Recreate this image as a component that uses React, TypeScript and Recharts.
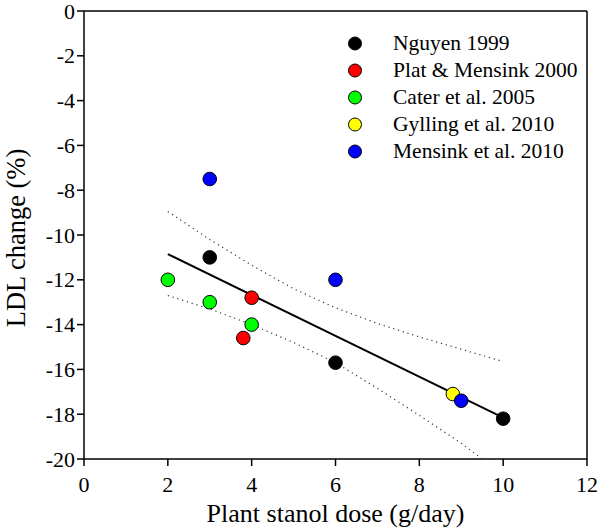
import React from "react";
import {
  ScatterChart,
  Scatter,
  XAxis,
  YAxis,
  ReferenceLine,
  Legend,
  Label,
} from "recharts";

const FONT = '"Liberation Serif", "Times New Roman", serif';

// study points: dose (g/day) and LDL change (%)
const nguyenX = [3, 6, 10];
const nguyenY = [-11, -15.7, -18.2];
const platX = [4, 3.8];
const platY = [-12.8, -14.6];
const caterX = [2, 3, 4];
const caterY = [-12, -13, -14];
const gyllingX = [8.8];
const gyllingY = [-17.1];
const mensinkX = [3, 6, 9];
const mensinkY = [-7.5, -12, -17.4];

// regression line and dotted 95% bands
const fitX = [2, 10];
const fitY = [-10.85, -18.15];
const upperX = [2, 3, 4, 5, 6, 7, 8, 9, 10];
const upperY = [-8.95, -10.2, -11.35, -12.4, -13.25, -13.95, -14.55, -15.1, -15.65];
const lowerX = [2, 3, 4, 5, 6, 7, 8, 9, 9.5];
const lowerY = [-12.7, -13.3, -14, -14.8, -15.7, -16.85, -18.05, -19.3, -20];

const xTicks = [0, 2, 4, 6, 8, 10, 12];
const yTicks = [0, -2, -4, -6, -8, -10, -12, -14, -16, -18, -20];

const toPoints = (xs: number[], ys: number[]) =>
  xs.map((x, i) => ({ x, y: ys[i] }));

const series = [
  { name: "Nguyen 1999", color: "#000000", data: toPoints(nguyenX, nguyenY) },
  { name: "Plat & Mensink 2000", color: "#ff0000", data: toPoints(platX, platY) },
  { name: "Cater et al. 2005", color: "#00ff00", data: toPoints(caterX, caterY) },
  { name: "Gylling et al. 2010", color: "#ffff00", data: toPoints(gyllingX, gyllingY) },
  { name: "Mensink et al. 2010", color: "#0000ff", data: toPoints(mensinkX, mensinkY) },
];

const Dot = (props: any) => {
  const { cx, cy, fill } = props;
  if (cx == null || cy == null) return <g />;
  return <circle cx={cx} cy={cy} r={6.8} fill={fill} stroke="#000" strokeWidth={1} />;
};

const NoShape = () => <g />;

const renderXTick = (props: any) => {
  const { x, y, payload } = props;
  return (
    <text
      x={x}
      y={y + 24}
      textAnchor="middle"
      style={{ fontSize: 22, fontFamily: FONT, fill: "#000" }}
    >
      {payload.value}
    </text>
  );
};

const renderYTick = (props: any) => {
  const { x, y, payload } = props;
  return (
    <text
      x={x}
      y={y + 7.5}
      textAnchor="end"
      style={{ fontSize: 22, fontFamily: FONT, fill: "#000" }}
    >
      {payload.value}
    </text>
  );
};

const CustomLegend = () => (
  <div style={{ fontFamily: FONT }}>
    {series.map((s) => (
      <div
        key={s.name}
        style={{ display: "flex", alignItems: "center", height: 27.1 }}
      >
        <svg width={53} height={27} style={{ display: "block" }}>
          <circle cx={15} cy={13.5} r={6.5} fill={s.color} stroke="#000" strokeWidth={1} />
        </svg>
        <span style={{ fontSize: 21.5, lineHeight: "27px", color: "#000", whiteSpace: "nowrap" }}>
          {s.name}
        </span>
      </div>
    ))}
  </div>
);

export default function App() {
  return (
    <div style={{ position: "absolute", left: 0, top: 0, background: "#fff", fontFamily: FONT }}>
      <ScatterChart
        width={600}
        height={528}
        margin={{ top: 11, right: 13, left: 0, bottom: 0 }}
      >
        <XAxis
          type="number"
          dataKey="x"
          domain={[0, 12]}
          ticks={xTicks}
          interval={0}
          height={69}
          tickSize={7}
          tick={renderXTick}
          axisLine={{ stroke: "#000", strokeWidth: 1.5 }}
          tickLine={{ stroke: "#000", strokeWidth: 1.5 }}
          allowDataOverflow
        >
          <Label
            content={(p: any) => {
              const vb = p.viewBox || { x: 84, width: 503 };
              return (
                <text
                  x={vb.x + vb.width / 2}
                  y={522}
                  textAnchor="middle"
                  fontSize={26}
                  fontFamily={FONT}
                  fill="#000"
                >
                  Plant stanol dose (g/day)
                </text>
              );
            }}
          />
        </XAxis>
        <YAxis
          type="number"
          dataKey="y"
          domain={[-20, 0]}
          ticks={yTicks}
          interval={0}
          width={84}
          tickSize={7}
          tick={renderYTick}
          axisLine={{ stroke: "#000", strokeWidth: 1.5 }}
          tickLine={{ stroke: "#000", strokeWidth: 1.5 }}
          allowDataOverflow
        >
          <Label
            content={(p: any) => {
              const vb = p.viewBox || { y: 11, height: 448 };
              const cy = vb.y + vb.height / 2 + 3;
              return (
                <text
                  x={25}
                  y={cy}
                  textAnchor="middle"
                  fontSize={26.5}
                  fontFamily={FONT}
                  fill="#000"
                  transform={`rotate(-90, 25, ${cy})`}
                >
                  LDL change (%)
                </text>
              );
            }}
          />
        </YAxis>
        <ReferenceLine y={0} stroke="#000" strokeWidth={1.5} />
        <ReferenceLine x={12} stroke="#000" strokeWidth={1.5} />
        <Legend
          layout="vertical"
          align="center"
          verticalAlign="middle"
          wrapperStyle={{ left: 340, top: 30, width: 250 }}
          content={<CustomLegend />}
        />
        <Scatter
          data={toPoints(upperX, upperY)}
          line={{ stroke: "#333", strokeWidth: 1.2, strokeDasharray: "1.2 3.8" }}
          shape={NoShape}
          legendType="none"
          isAnimationActive={false}
        />
        <Scatter
          data={toPoints(lowerX, lowerY)}
          line={{ stroke: "#333", strokeWidth: 1.2, strokeDasharray: "1.2 3.8" }}
          shape={NoShape}
          legendType="none"
          isAnimationActive={false}
        />
        <Scatter
          data={toPoints(fitX, fitY)}
          line={{ stroke: "#000", strokeWidth: 2 }}
          shape={NoShape}
          legendType="none"
          isAnimationActive={false}
        />
        {series.map((s) => (
          <Scatter
            key={s.name}
            name={s.name}
            data={s.data}
            fill={s.color}
            shape={Dot}
            isAnimationActive={false}
          />
        ))}
      </ScatterChart>
    </div>
  );
}
